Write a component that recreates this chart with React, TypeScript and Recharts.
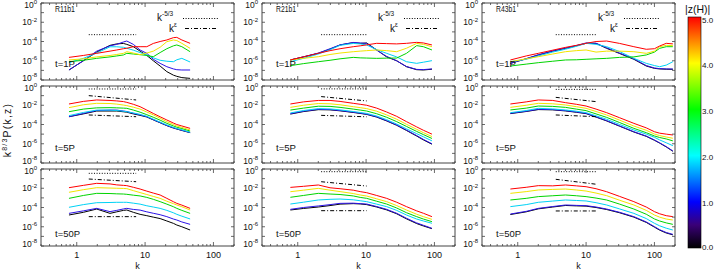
import React from 'react';
import { LineChart, Line, XAxis, YAxis } from 'recharts';

// ---------- k grids (one per column / run) ----------
const K_R11 = [0.77, 1.25, 1.96, 3.07, 3.85, 4.82, 5.4, 6.74, 8.45, 10.6, 13.2, 16.6, 20.8, 26, 29.1, 34.5, 45.6];
const K_R21 = [0.78, 1.21, 2.0, 2.97, 4.16, 6.5, 8.2, 10.2, 14.3, 20, 28, 39, 55, 69, 92];
const K_R43 = [0.78, 1.33, 2, 3.25, 5, 7.2, 10, 14, 20, 31, 50, 76, 100, 119, 149, 186];

// ---------- series: log10 of k^{8/3}P(k,z); order |z| = 0,1,2,3,4,5 ----------
const R11_T1 = [
  [-6.96, -6.0, -5.1, -4.4, -4.25, -4.2, -4.3, -4.54, -5.0, -5.45, -6.0, -6.55, -7.13, -7.5, -7.62, -7.75, -7.83],
  [-6.96, -6.0, -5.0, -4.45, -4.3, -4.05, -3.95, -4.3, -4.88, -5.23, -5.85, -6.27, -6.62, -6.85, -6.93, -6.96, -6.96],
  [-6.2, -5.75, -5.2, -4.55, -4.55, -4.6, -4.7, -4.9, -5.15, -5.4, -5.7, -5.95, -6.05, -6.1, -5.9, -5.75, -6.13],
  [-6.1, -5.95, -5.75, -5.6, -5.5, -5.4, -5.23, -5.3, -5.37, -5.45, -5.58, -5.15, -4.75, -4.45, -4.36, -4.54, -5.06],
  [-5.92, -5.8, -5.6, -5.45, -5.35, -5.23, -5.06, -5.2, -5.37, -5.2, -5.0, -4.6, -4.02, -3.84, -3.9, -4.19, -4.71],
  [-5.65, -5.45, -5.23, -5.0, -4.88, -4.75, -4.7, -4.54, -4.54, -4.54, -4.2, -4.0, -3.84, -3.6, -3.57, -3.84, -4.19],
];
const R11_T5 = [
  [-3.19, -2.9, -2.6, -2.6, -2.6, -2.68, -2.72, -2.9, -3.05, -3.22, -3.52, -3.82, -4.12, -4.37, -4.47, -4.62, -4.85],
  [-3.19, -2.85, -2.55, -2.5, -2.5, -2.6, -2.65, -2.84, -3.0, -3.19, -3.5, -3.8, -4.1, -4.35, -4.45, -4.6, -4.83],
  [-3.08, -2.75, -2.5, -2.5, -2.55, -2.62, -2.67, -2.8, -2.95, -3.15, -3.45, -3.75, -4.05, -4.3, -4.42, -4.55, -4.81],
  [-2.67, -2.4, -2.27, -2.25, -2.27, -2.3, -2.32, -2.5, -2.72, -2.98, -3.25, -3.55, -3.88, -4.15, -4.28, -4.42, -4.68],
  [-2.25, -1.95, -1.8, -1.82, -1.88, -1.98, -2.04, -2.2, -2.4, -2.7, -3.0, -3.35, -3.71, -4.0, -4.15, -4.3, -4.57],
  [-1.87, -1.6, -1.45, -1.5, -1.55, -1.62, -1.7, -1.9, -2.15, -2.5, -2.85, -3.2, -3.53, -3.85, -4.0, -4.15, -4.4],
];
const R11_T50 = [
  [-4.78, -4.5, -4.16, -4.61, -4.45, -4.3, -4.26, -4.5, -4.71, -4.85, -5.0, -5.15, -5.4, -5.65, -5.82, -6.0, -6.34],
  [-4.61, -4.35, -4.09, -4.43, -4.3, -4.15, -4.09, -4.2, -4.27, -4.45, -4.6, -4.75, -4.95, -5.2, -5.3, -5.5, -5.75],
  [-3.98, -3.7, -3.5, -3.48, -3.46, -3.46, -3.46, -3.55, -3.65, -3.82, -3.95, -4.09, -4.3, -4.55, -4.71, -4.9, -5.19],
  [-3.05, -2.75, -2.53, -2.55, -2.58, -2.6, -2.63, -2.72, -2.8, -2.95, -3.15, -3.39, -3.65, -3.92, -4.09, -4.3, -4.61],
  [-2.42, -2.15, -1.94, -1.98, -2.0, -2.02, -2.04, -2.25, -2.45, -2.65, -2.85, -3.05, -3.35, -3.6, -3.74, -3.92, -4.26],
  [-1.94, -1.7, -1.49, -1.55, -1.65, -1.7, -1.73, -1.9, -2.08, -2.3, -2.5, -2.7, -3.05, -3.4, -3.57, -3.75, -4.09],
];

const R21_T1 = [
  [-5.92, -5.6, -5.23, -4.8, -4.36, -4.12, -4.2, -4.15, -4.88, -5.6, -6.0, -6.62, -6.93, -6.96, -6.88],
  [-5.92, -5.6, -5.2, -4.75, -4.35, -4.1, -4.15, -4.2, -4.9, -5.55, -6.0, -6.6, -6.9, -6.92, -6.85],
  [-6.1, -5.75, -5.3, -4.85, -4.4, -4.2, -4.25, -4.36, -4.85, -5.23, -5.6, -6.1, -6.27, -6.15, -5.99],
  [-6.51, -6.3, -6.1, -5.95, -5.8, -5.65, -5.7, -5.72, -5.75, -5.73, -5.72, -5.23, -4.43, -4.54, -4.88],
  [-5.92, -5.75, -5.58, -5.35, -5.2, -5.06, -5.0, -4.95, -4.88, -4.95, -5.06, -4.7, -4.2, -4.3, -4.54],
  [-5.92, -5.6, -5.23, -4.95, -4.75, -4.54, -4.45, -4.35, -4.19, -4.22, -4.25, -4.19, -4.09, -4.15, -4.36],
];
const R21_T5 = [
  [-2.92, -2.66, -2.46, -2.48, -2.58, -2.75, -2.85, -2.95, -3.23, -3.63, -4.08, -4.62, -5.2, -5.6, -6.05],
  [-2.88, -2.62, -2.42, -2.45, -2.55, -2.72, -2.82, -2.92, -3.2, -3.6, -4.05, -4.58, -5.15, -5.55, -6.0],
  [-2.8, -2.55, -2.35, -2.38, -2.48, -2.65, -2.75, -2.85, -3.12, -3.5, -3.95, -4.45, -4.95, -5.28, -5.7],
  [-2.5, -2.3, -2.1, -2.12, -2.22, -2.4, -2.5, -2.6, -2.88, -3.25, -3.7, -4.2, -4.72, -5.05, -5.45],
  [-2.22, -2.0, -1.82, -1.85, -1.95, -2.15, -2.25, -2.35, -2.62, -3.0, -3.45, -3.98, -4.5, -4.85, -5.25],
  [-1.87, -1.65, -1.5, -1.5, -1.6, -1.8, -1.9, -2.0, -2.3, -2.7, -3.15, -3.7, -4.25, -4.6, -5.0],
];
const R21_T50 = [
  [-4.26, -4.1, -3.95, -3.8, -3.65, -3.6, -3.63, -3.7, -3.95, -4.25, -4.65, -5.18, -5.67, -5.92, -6.2],
  [-4.19, -4.0, -3.84, -3.7, -3.57, -3.55, -3.6, -3.64, -3.9, -4.19, -4.6, -5.12, -5.6, -5.85, -6.16],
  [-3.64, -3.45, -3.22, -3.15, -3.12, -3.2, -3.3, -3.39, -3.65, -3.91, -4.3, -4.78, -5.2, -5.4, -5.64],
  [-2.94, -2.75, -2.53, -2.6, -2.65, -2.8, -2.95, -3.05, -3.35, -3.64, -4.05, -4.54, -4.95, -5.2, -5.47],
  [-2.36, -2.2, -2.01, -2.2, -2.35, -2.55, -2.7, -2.81, -3.1, -3.39, -3.8, -4.26, -4.7, -4.95, -5.23],
  [-1.91, -1.8, -1.66, -1.95, -2.05, -2.2, -2.35, -2.46, -2.75, -3.05, -3.45, -3.91, -4.35, -4.6, -4.95],
];

const R43_T1 = [
  [-6.27, -5.8, -5.4, -5.0, -4.71, -4.45, -4.19, -4.2, -4.71, -5.25, -5.85, -6.55, -6.79, -6.85, -6.88, -6.89],
  [-6.27, -5.78, -5.38, -4.98, -4.68, -4.42, -4.15, -4.18, -4.65, -5.2, -5.8, -6.5, -6.75, -6.82, -6.85, -6.86],
  [-6.1, -5.85, -5.5, -5.1, -4.8, -4.5, -4.19, -4.3, -4.54, -5.05, -5.75, -6.27, -6.5, -6.62, -6.45, -6.1],
  [-6.55, -6.35, -6.2, -6.05, -5.92, -5.9, -5.85, -5.8, -5.75, -5.65, -5.6, -5.4, -5.1, -4.71, -4.54, -4.54],
  [-6.1, -5.8, -5.58, -5.3, -5.06, -4.95, -4.88, -5.1, -5.0, -5.0, -5.06, -5.23, -5.0, -4.54, -4.4, -4.43],
  [-5.92, -5.5, -5.23, -4.9, -4.61, -4.4, -4.19, -4.0, -3.95, -4.2, -4.54, -4.81, -4.75, -4.47, -4.19, -4.25],
];
const R43_T5 = [
  [-2.87, -2.65, -2.45, -2.48, -2.59, -2.73, -2.87, -3.23, -3.63, -4.18, -4.78, -5.23, -5.64, -5.93, -6.33, -6.78],
  [-2.84, -2.62, -2.42, -2.45, -2.56, -2.7, -2.84, -3.2, -3.6, -4.15, -4.75, -5.2, -5.61, -5.9, -6.3, -6.75],
  [-2.77, -2.55, -2.32, -2.38, -2.49, -2.62, -2.77, -3.1, -3.46, -4.0, -4.57, -5.0, -5.33, -5.6, -5.9, -6.2],
  [-2.49, -2.3, -2.08, -2.12, -2.22, -2.4, -2.56, -2.9, -3.26, -3.8, -4.4, -4.85, -5.19, -5.35, -5.5, -5.7],
  [-2.22, -2.0, -1.8, -1.85, -1.97, -2.15, -2.32, -2.65, -3.01, -3.55, -4.16, -4.6, -4.99, -5.15, -5.3, -5.43],
  [-1.87, -1.65, -1.45, -1.5, -1.73, -1.9, -2.08, -2.4, -2.77, -3.3, -3.88, -4.35, -4.75, -4.9, -5.0, -5.09],
];
const R43_T50 = [
  [-4.73, -4.45, -4.14, -3.95, -3.79, -3.83, -3.86, -4.0, -4.21, -4.55, -5.0, -5.55, -6.04, -6.35, -6.65, -6.84],
  [-4.68, -4.4, -4.09, -3.9, -3.74, -3.78, -3.81, -3.95, -4.16, -4.5, -4.95, -5.5, -5.99, -6.3, -6.6, -6.79],
  [-3.91, -3.7, -3.46, -3.33, -3.22, -3.27, -3.32, -3.5, -3.74, -4.15, -4.61, -5.15, -5.64, -5.9, -6.15, -6.34],
  [-3.22, -3.05, -2.87, -2.78, -2.7, -2.78, -2.87, -3.02, -3.22, -3.65, -4.16, -4.7, -5.19, -5.4, -5.6, -5.75],
  [-2.53, -2.35, -2.18, -2.12, -2.08, -2.18, -2.29, -2.5, -2.77, -3.25, -3.74, -4.3, -4.78, -5.0, -5.2, -5.3],
  [-2.08, -1.9, -1.73, -1.75, -1.66, -1.75, -1.84, -2.05, -2.36, -2.85, -3.39, -3.95, -4.43, -4.65, -4.85, -4.95],
];

// ---------- reference slopes (k range per run; log10 values per panel) ----------
const REF_K_R11 = [1.5, 7.4];
const REF_K_R21 = [2.2, 10.2];
const REF_K_R43 = [3.6, 14.3];
const DOTTED_R11 = [[-3.29, -3.29], [-0.31, -0.31], [-0.45, -0.45]];
const DOTTED_R21 = [[-3.29, -3.29], [-0.3, -0.3], [-0.28, -0.28]];
const DOTTED_R43 = [[-3.29, -3.29], [-0.35, -0.35], [-0.28, -0.28]];
const DASHDOT_HI_R11 = [null, [-1.0, -1.45], [-1.04, -1.32]];
const DASHDOT_HI_R21 = [null, [-1.1, -1.55], [-1.32, -1.77]];
const DASHDOT_HI_R43 = [null, [-1.18, -1.63], [-1.07, -1.59]];
const DASHDOT_LO_R11 = [null, [-3.01, -3.19], [-4.95, -4.95]];
const DASHDOT_LO_R21 = [null, [-3.05, -3.2], [-4.33, -4.33]];
const DASHDOT_LO_R43 = [null, [-3.01, -3.19], [-4.36, -4.36]];

// ---------- labels ----------
const RUN_NAMES = ['R11b1', 'R21b1', 'R43b1'];
const TIME_LABELS = ['t=1P', 't=5P', 't=50P'];
const X_TICKS = [0.3, 0.4, 0.5, 0.6, 0.7, 0.8, 0.9, 1, 2, 3, 4, 5, 6, 7, 8, 9, 10, 20, 30, 40, 50, 60, 70, 80, 90, 100, 200];
const X_LABELED = [1, 10, 100];
const Y_TICKS = [1e-8, 1e-7, 1e-6, 1e-5, 1e-4, 1e-3, 1e-2, 1e-1, 1];
const CBAR_LABELS = ['5.0', '4.0', '3.0', '2.0', '1.0', '0.0'];
const COLORS = ['#000000', '#2c12e6', '#00d2f5', '#00d400', '#f2e400', '#ff0000'];

const COLS = [
  { k: K_R11, series: [R11_T1, R11_T5, R11_T50], refK: REF_K_R11, dot: DOTTED_R11, hi: DASHDOT_HI_R11, lo: DASHDOT_LO_R11 },
  { k: K_R21, series: [R21_T1, R21_T5, R21_T50], refK: REF_K_R21, dot: DOTTED_R21, hi: DASHDOT_HI_R21, lo: DASHDOT_LO_R21 },
  { k: K_R43, series: [R43_T1, R43_T5, R43_T50], refK: REF_K_R43, dot: DOTTED_R43, hi: DASHDOT_HI_R43, lo: DASHDOT_LO_R43 },
];

// ---------- layout ----------
const PW = 193;
const PH = 77;
const COL_X = [41, 262, 482];
const ROW_Y = [3, 86, 169];
const ML = 46;
const MT = 6;
const MR = 8;
const AX = '#444';
const FONT = '"Liberation Sans", Arial, sans-serif';

const pts = (ks: number[], logs: number[]) => ks.map((k, i) => ({ k, v: Math.pow(10, logs[i]) }));

const xTick = (side: 'top' | 'bottom', showLabel: boolean) => (p: any) => {
  const v = p.payload.value;
  const major = X_LABELED.includes(v);
  const len = major ? 4 : 2;
  const dir = side === 'bottom' ? -1 : 1;
  return (
    <g>
      <line x1={p.x} x2={p.x} y1={p.y} y2={p.y + dir * len} stroke={AX} strokeWidth={0.8} />
      {showLabel && major && (
        <text x={p.x} y={p.y + 12} textAnchor="middle" fontSize={9} fill="#111" fontFamily={FONT}>
          {v}
        </text>
      )}
    </g>
  );
};

const yTick = (side: 'left' | 'right') => (p: any) => {
  const v = p.payload.value;
  const e = Math.round(Math.log10(v));
  const dir = side === 'left' ? 1 : -1;
  const base = e === -8 ? 0.5 : e === 0 ? 4.5 : 3;
  return (
    <g>
      <line x1={p.x} x2={p.x + dir * 3} y1={p.y} y2={p.y} stroke={AX} strokeWidth={0.8} />
      {side === 'left' && e % 2 === 0 && (
        <text x={p.x - 4} y={p.y + base} textAnchor="end" fontSize={8.5} fill="#111" fontFamily={FONT}>
          10
          <tspan dy={-3.5} fontSize={6}>
            {e === 0 ? '0' : '-' + String(-e)}
          </tspan>
        </text>
      )}
    </g>
  );
};

function Panel({ col, row }: { col: number; row: number }) {
  const c = COLS[col];
  const mb = row === 2 ? 26 : 6;
  const series = c.series[row];
  const hi = c.hi[row];
  const lo = c.lo[row];
  return (
    <div style={{ position: 'absolute', left: COL_X[col] - ML, top: ROW_Y[row] - MT }}>
      <LineChart width={ML + PW + MR} height={MT + PH + mb} margin={{ top: 0, right: 0, bottom: 0, left: 0 }}>
        <XAxis xAxisId="b" dataKey="k" type="number" scale="log" domain={[0.3, 200]} allowDataOverflow
          ticks={X_TICKS} interval={0} tickSize={0} tickMargin={0} height={mb} tickLine={false}
          axisLine={{ stroke: AX }} tick={xTick('bottom', row === 2)} />
        <XAxis xAxisId="t" orientation="top" dataKey="k" type="number" scale="log" domain={[0.3, 200]} allowDataOverflow
          ticks={X_TICKS} interval={0} tickSize={0} tickMargin={0} height={MT} tickLine={false}
          axisLine={{ stroke: AX }} tick={xTick('top', false)} />
        <YAxis yAxisId="l" type="number" scale="log" domain={[1e-8, 1]} allowDataOverflow
          ticks={Y_TICKS} interval={0} tickSize={0} tickMargin={0} width={ML} tickLine={false}
          axisLine={{ stroke: AX }} tick={yTick('left')} />
        <YAxis yAxisId="r" orientation="right" type="number" scale="log" domain={[1e-8, 1]} allowDataOverflow
          ticks={Y_TICKS} interval={0} tickSize={0} tickMargin={0} width={MR} tickLine={false}
          axisLine={{ stroke: AX }} tick={yTick('right')} />
        {series.map((s, i) => (
          <Line key={'s' + i} xAxisId="b" yAxisId="l" data={pts(c.k, s)} dataKey="v" stroke={COLORS[i]}
            strokeWidth={1} dot={false} isAnimationActive={false} />
        ))}
        <Line xAxisId="b" yAxisId="l" data={pts(c.refK, c.dot[row])} dataKey="v" stroke="#000"
          strokeWidth={1} strokeDasharray="1 1.6" dot={false} isAnimationActive={false} />
        {hi && (
          <Line xAxisId="b" yAxisId="l" data={pts(c.refK, hi)} dataKey="v" stroke="#000"
            strokeWidth={1} strokeDasharray="4 2 1 2" dot={false} isAnimationActive={false} />
        )}
        {lo && (
          <Line xAxisId="b" yAxisId="l" data={pts(c.refK, lo)} dataKey="v" stroke="#000"
            strokeWidth={1} strokeDasharray="4 2 1 2" dot={false} isAnimationActive={false} />
        )}
      </LineChart>
    </div>
  );
}

function Overlay() {
  const tOff = [63.5, 64.5, 67.5];
  const tLen = [20, 20, 25];
  return (
    <svg width={715} height={276} style={{ position: 'absolute', left: 0, top: 0, pointerEvents: 'none' }} fontFamily={FONT}>
      <defs>
        <linearGradient id="cbar" x1="0" y1="1" x2="0" y2="0">
          <stop offset="0" stopColor="#000000" />
          <stop offset="0.1" stopColor="#3a0078" />
          <stop offset="0.2" stopColor="#0000ff" />
          <stop offset="0.3" stopColor="#0080ff" />
          <stop offset="0.4" stopColor="#00ffff" />
          <stop offset="0.5" stopColor="#00ff80" />
          <stop offset="0.6" stopColor="#00ff00" />
          <stop offset="0.7" stopColor="#80ff00" />
          <stop offset="0.8" stopColor="#ffff00" />
          <stop offset="0.9" stopColor="#ff8000" />
          <stop offset="1" stopColor="#ff0000" />
        </linearGradient>
      </defs>
      {COL_X.map((x0, ci) => (
        <g key={'c' + ci}>
          <text x={x0 + 14} y={ROW_Y[0] + 8.5} fontSize={9} textLength={20} lengthAdjust="spacingAndGlyphs" fill="#111">{RUN_NAMES[ci]}</text>
          {TIME_LABELS.map((t, ri) => (
            <text key={t} x={x0 + 14} y={ROW_Y[ri] + tOff[ri]} fontSize={9} textLength={tLen[ri]} lengthAdjust="spacingAndGlyphs" fill="#111">{t}</text>
          ))}
          <text x={x0 + 116} y={20.5} fontSize={10} fill="#111">k<tspan dy={-4.5} fontSize={6.5}>-5/3</tspan></text>
          <line x1={x0 + 142} x2={x0 + 178} y1={18.5} y2={18.5} stroke="#000" strokeDasharray="1 1.6" />
          <text x={x0 + 128} y={31.5} fontSize={10} fill="#111">k<tspan dy={-4.5} fontSize={6.5}>ε</tspan></text>
          <line x1={x0 + 144} x2={x0 + 177} y1={28.5} y2={28.5} stroke="#000" strokeDasharray="4 2 1 2" />
          <text x={x0 + PW / 2} y={269} fontSize={9} textAnchor="middle" fill="#111">k</text>
        </g>
      ))}
      <text transform="translate(11,130) rotate(-90)" fontSize={10.5} textAnchor="middle" letterSpacing={1.2} fill="#111">
        k<tspan dy={-4} fontSize={7}>8/3</tspan><tspan dy={4}>P(k,z)</tspan>
      </text>
      <rect x={688} y={17} width={13} height={231} fill="url(#cbar)" stroke="#000" strokeWidth={0.6} />
      <text x={685} y={13} fontSize={10.5} fill="#111">|z(H)|</text>
      {CBAR_LABELS.map((l, i) => (
        <text key={l} x={702} y={[23, 68, 114, 160, 206, 250][i]} fontSize={8} fill="#111">{l}</text>
      ))}
    </svg>
  );
}

export default function App() {
  const cells: any[] = [];
  for (let r = 0; r < 3; r++) for (let c = 0; c < 3; c++) cells.push(<Panel key={r + '-' + c} col={c} row={r} />);
  return (
    <div style={{ position: 'absolute', left: 0, top: 0, width: 715, height: 276, background: '#fff', overflow: 'hidden' }}>
      {cells}
      <Overlay />
    </div>
  );
}
